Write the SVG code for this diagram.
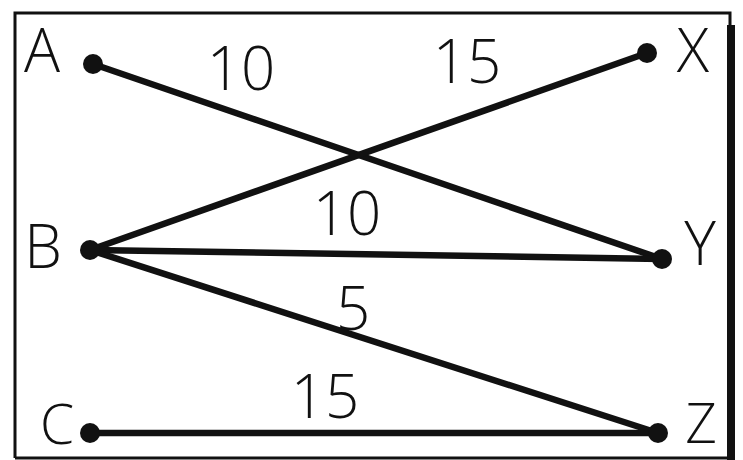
<svg xmlns="http://www.w3.org/2000/svg" width="743" height="460" viewBox="0 0 743 460">
<style>
.t{font-family:"Open Sans","Liberation Sans",sans-serif;font-weight:300;font-size:60px;fill:#111;text-anchor:middle}
.s{font-size:55px}
.e{stroke:#111;stroke-width:6.5;stroke-linecap:round;fill:none}
.n{fill:#111}
</style>
<rect width="743" height="460" fill="#fff"/>
<g id="frame">
<path d="M15 458 V13 H730 V25" fill="none" stroke="#111" stroke-width="3"/>
<line x1="15" y1="458" x2="735" y2="458" stroke="#111" stroke-width="3"/>
<rect x="727" y="25" width="8" height="435" fill="#111"/>
</g>
<g id="connectors">
<line class="e" x1="93" y1="64" x2="662" y2="259"/>
<line class="e" x1="90" y1="250" x2="647" y2="53"/>
<line class="e" x1="90" y1="250" x2="662" y2="259"/>
<line class="e" x1="90" y1="250" x2="658" y2="433"/>
<line class="e" x1="90" y1="433" x2="658" y2="433"/>
<text class="t" x="241" y="90">10</text>
<text class="t" x="467" y="83">15</text>
<text class="t" x="347" y="235">10</text>
<text class="t" x="353" y="330">5</text>
<text class="t" x="325" y="418">15</text>
</g>
<g id="A"><circle class="n" cx="93" cy="64" r="10"/><text class="t" x="42" y="72">A</text></g>
<g id="X"><circle class="n" cx="647" cy="53" r="10"/><text class="t" x="693" y="72">X</text></g>
<g id="B"><circle class="n" cx="90" cy="250" r="10"/><text class="t" x="43" y="268">B</text></g>
<g id="Y"><circle class="n" cx="662" cy="259" r="10"/><text class="t" x="700" y="265">Y</text></g>
<g id="C"><circle class="n" cx="90" cy="433" r="10"/><text class="t s" x="57" y="444">C</text></g>
<g id="Z"><circle class="n" cx="658" cy="433" r="10"/><text class="t s" x="701" y="443">Z</text></g>
</svg>
